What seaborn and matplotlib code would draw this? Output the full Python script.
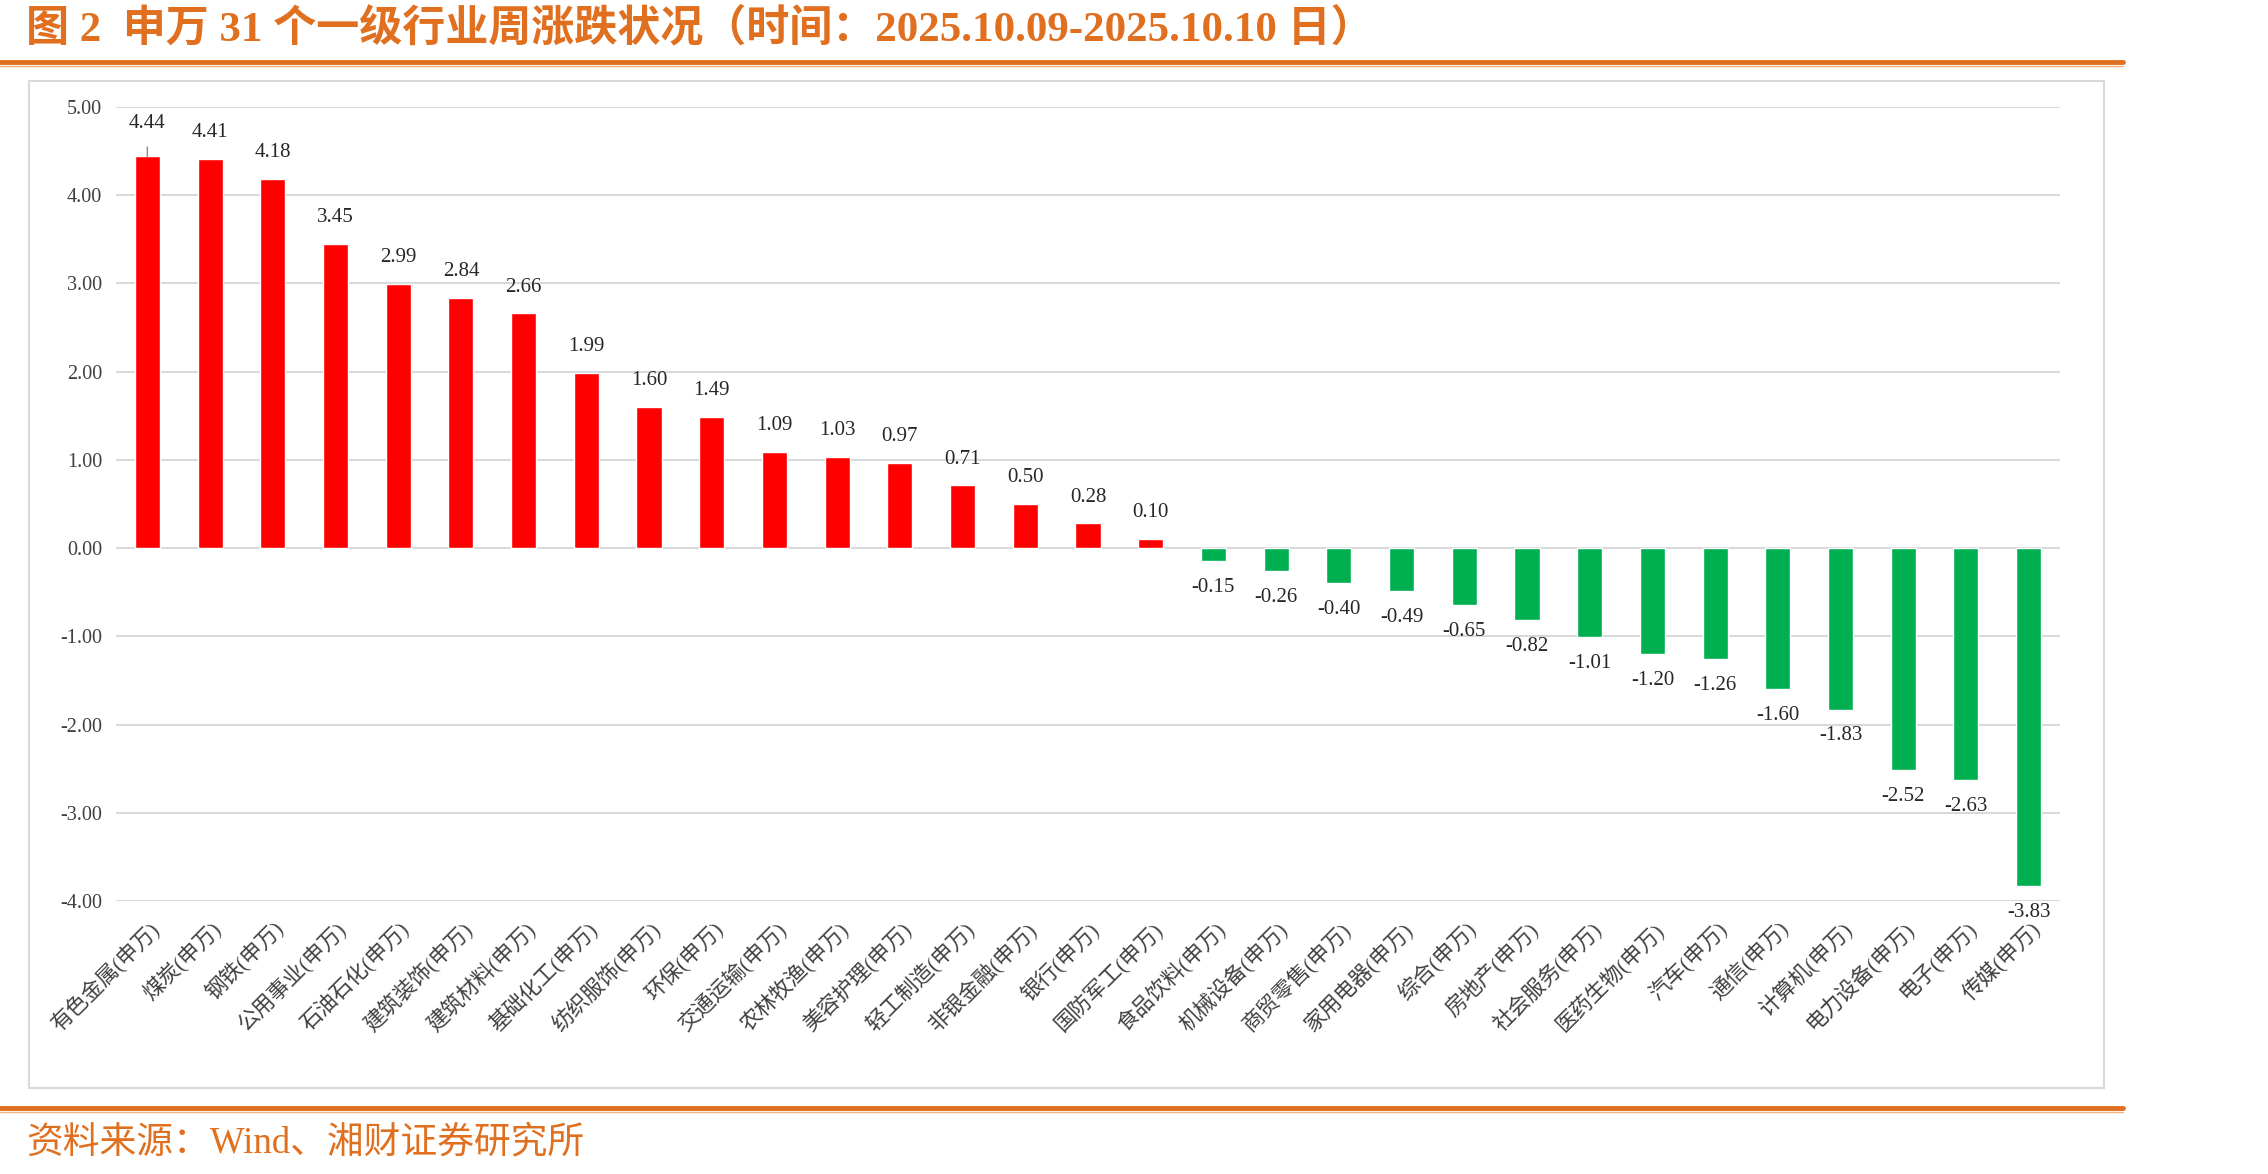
import numpy as np
import matplotlib
matplotlib.use("Agg")
import matplotlib.pyplot as plt
import pandas as pd
import seaborn as sns
from matplotlib.lines import Line2D
from matplotlib.patches import Rectangle

# 申万一级行业 周涨跌幅 (%)
industries = ["有色金属", "煤炭", "钢铁", "公用事业", "石油石化", "建筑装饰", "建筑材料",
              "基础化工", "纺织服饰", "环保", "交通运输", "农林牧渔", "美容护理", "轻工制造",
              "非银金融", "银行", "国防军工", "食品饮料", "机械设备", "商贸零售", "家用电器",
              "综合", "房地产", "社会服务", "医药生物", "汽车", "通信", "计算机", "电力设备",
              "电子", "传媒"]
changes = [4.44, 4.41, 4.18, 3.45, 2.99, 2.84, 2.66, 1.99, 1.60, 1.49, 1.09, 1.03, 0.97,
           0.71, 0.50, 0.28, 0.10, -0.15, -0.26, -0.40, -0.49, -0.65, -0.82, -1.01, -1.20,
           -1.26, -1.60, -1.83, -2.52, -2.63, -3.83]
yticks = [-4, -3, -2, -1, 0, 1, 2, 3, 4, 5]

labels = [name + "(申万)" for name in industries]
df = pd.DataFrame({"行业": labels, "涨跌幅": changes})
bar_colors = ["#FF0000" if v >= 0 else "#00B050" for v in changes]

sns.set_style("white")
plt.rcParams["font.family"] = ["Liberation Serif", "Noto Sans CJK SC", "DejaVu Sans"]
plt.rcParams["axes.unicode_minus"] = False

orange = "#E0701F"
fig = plt.figure(figsize=(22.68, 11.74), dpi=100)
W, H = 2268, 1174

ax = fig.add_axes([116 / W, 1 - 901 / H, (2060 - 116) / W, (901 - 107) / H])
sns.barplot(data=df, x="行业", y="涨跌幅", hue="行业", palette=bar_colors,
            width=0.4, legend=False, saturation=1, ax=ax)

ax.set_ylim(-4, 5)
ax.set_xlim(-0.5, len(labels) - 0.5)
ax.set_yticks(yticks)
ax.set_yticklabels([f"{t:.2f}" for t in yticks], fontsize=14.5, color="#404040")
ax.yaxis.grid(True, color="#D9D9D9", lw=1.5)
ax.set_axisbelow(True)
for s in ax.spines.values():
    s.set_visible(False)
ax.tick_params(axis="y", length=0, pad=10)
ax.tick_params(axis="x", length=0, pad=12)
ax.set_xlabel("")
ax.set_ylabel("")
ax.set_xticks(range(len(labels)))
ax.set_xticklabels(labels, rotation=45, ha="right", rotation_mode="anchor",
                   fontsize=15.5, color="#404040")

for i, v in enumerate(changes):
    off = 19 if v >= 0 else -19
    if i == 0:
        ax.annotate(f"{v:.2f}", xy=(i, v), xytext=(0, 24), textcoords="offset points",
                    ha="center", va="center", fontsize=15, color="#262626",
                    arrowprops=dict(arrowstyle="-", color="#8C8C8C", lw=1,
                                    shrinkA=8, shrinkB=0))
    else:
        ax.annotate(f"{v:.2f}", xy=(i, v), xytext=(0, off), textcoords="offset points",
                    ha="center", va="center", fontsize=15, color="#262626")

# 图表外框
fig.patches.append(Rectangle((29 / W, 1 - 1088 / H), (2104 - 29) / W, (1088 - 81) / H,
                             transform=fig.transFigure, fill=False,
                             edgecolor="#D9D9D9", lw=1.5))

# 标题与分隔线
fig.text(26 / W, 1 - 29 / H, "图 2  申万 31 个一级行业周涨跌状况（时间：2025.10.09-2025.10.10 日）",
         fontsize=31, fontweight="bold", color=orange, ha="left", va="center")
for y, lw, c in [(62, 3.5, orange), (66, 1, "#F4B183"),
                 (1108, 3.5, orange), (1112, 1, "#F4B183")]:
    fig.add_artist(Line2D([0, 2123 / W], [1 - y / H, 1 - y / H], transform=fig.transFigure,
                          color=c, lw=lw))

fig.text(26 / W, 1 - 1143 / H, "资料来源：Wind、湘财证券研究所",
         fontsize=26.5, color=orange, ha="left", va="center")

fig.savefig("out.png", dpi=100)
